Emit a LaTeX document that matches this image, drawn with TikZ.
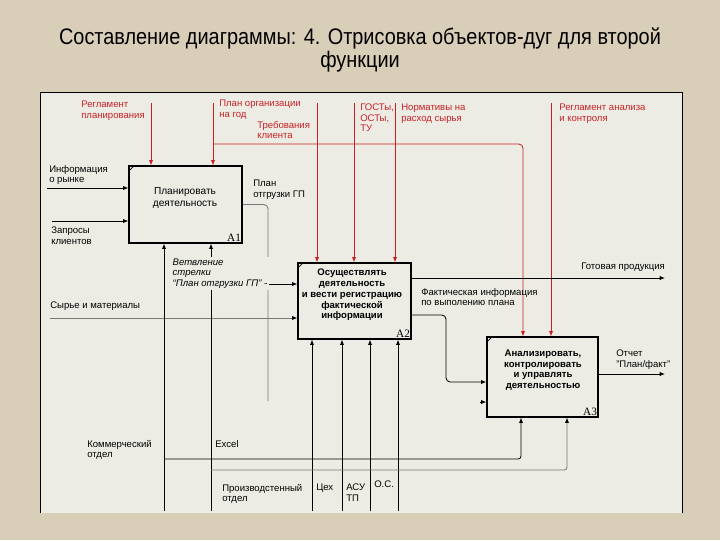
\documentclass[tikz,border=0pt]{standalone}
\usepackage{fontspec}
\setmainfont{Liberation Sans}
\newfontfamily\zagfont[FakeStretch=0.885]{Liberation Sans}
\newfontfamily\nomfont{Liberation Serif}
\usepackage{xcolor}
\usepackage{tikz}
\usetikzlibrary{arrows.meta}

\definecolor{fon}{RGB}{217,206,184}
\definecolor{panel}{RGB}{236,236,229}
\definecolor{krasn}{RGB}{200,32,36}
\definecolor{sery}{RGB}{120,120,120}

\tikzset{
  blok/.style={draw, line width=0.8pt},
  btext/.style={align=center, inner sep=0pt, font=\fontsize{7.2}{7.9}\selectfont},
  nom/.style={inner sep=1pt, font=\nomfont\fontsize{8}{9}\selectfont},
  podp/.style={anchor=north west, align=left, inner sep=0pt, font=\fontsize{6.8}{7.3}\selectfont},
  podpr/.style={podp, text=krasn},
  strelka/.style={line width=0.6pt, -{Latex[length=3.8pt,width=3pt]}},
  upr/.style={strelka, draw=krasn, -{Latex[length=3.8pt,width=3pt,color=krasn]}},
  zag/.style={align=center, inner sep=0pt, font=\zagfont\fontsize{16}{17}\selectfont}
}

\begin{document}
\begin{tikzpicture}[x=0.025cm,y=-0.025cm]
\useasboundingbox (0,0) rectangle (720,540);
\fill[fon] (0,0) rectangle (720,540);
\fill[panel] (40,92) rectangle (682,513);
\draw[line width=0.6pt] (40,513) -- (40,92) -- (682,92) -- (682,513);

% заголовок
\node[zag] (zag) at (360,50) {Составление диаграммы: 4. Отрисовка объектов-дуг для второй\\функции};

% блоки
\node[blok, minimum width=2.825cm, minimum height=1.925cm] (A1) at (185.5,204.5) {};
\node[blok, minimum width=2.825cm, minimum height=1.9cm] (A2) at (354.5,301) {};
\node[blok, minimum width=2.775cm, minimum height=2cm] (A3) at (542.5,377) {};
\node[btext] (A1t) at (185,198) {Планировать\\деятельность};
\node[btext, font=\bfseries\fontsize{6.8}{7.6}\selectfont] (A2t) at (352,295) {Осуществлять\\деятельность\\и вести регистрацию\\фактической\\информации};
\node[btext, font=\bfseries\fontsize{6.8}{7.6}\selectfont] (A3t) at (543,370) {Анализировать,\\контролировать\\и управлять\\деятельностью};
\node[nom, anchor=south east] (A1n) at (A1.south east) {A1};
\node[nom, anchor=south east] (A2n) at (A2.south east) {A2};
\node[nom, anchor=south east] (A3n) at (A3.south east) {A3};
\foreach \b in {A1,A2,A3}
  \draw[line width=0.4pt] ([shift={(1,5)}]\b.north west) -- ([shift={(5,1)}]\b.north west);

% управление
\coordinate (reglP) at (151,103);
\coordinate (plan) at (213,103);
\coordinate (planV) at (213,144);
\coordinate (planA3) at (523,144);
\coordinate (treb) at (317,103);
\coordinate (gost) at (354,103);
\coordinate (norm) at (395,103);
\coordinate (reglA) at (551,103);
\draw[upr] (reglP) -- (reglP |- A1.north);
\draw[upr] (plan) -- (plan |- A1.north);
\draw[upr, rounded corners=3] (planV) -- (planA3) -- (planA3 |- A3.north);
\draw[upr] (treb) -- (treb |- A2.north);
\draw[upr] (gost) -- (gost |- A2.north);
\draw[upr] (norm) -- (norm |- A2.north);
\draw[upr] (reglA) -- (reglA |- A3.north);

% входы
\coordinate (rynok) at (47,188);
\coordinate (zapros) at (52,221);
\coordinate (syrje) at (50,318);
\coordinate (vetv) at (268,284);
\coordinate (otgr) at (268,401);
\coordinate (vhodA3) at (480,402);
\draw[strelka] (rynok) -- (rynok -| A1.west);
\draw[strelka] (zapros) -- (zapros -| A1.west);
\draw[strelka, draw=sery, -{Latex[length=3.8pt,width=3pt,color=black]}] (syrje) -- (syrje -| A2.west);
\draw[line width=0.6pt, sery, rounded corners=3] (A1.east) -| (otgr);
\draw[strelka] (vetv) -- (vetv -| A2.west);
\draw[strelka] (vhodA3) -- (vhodA3 -| A3.west);

% выходы
\coordinate (gotov) at (665,278);
\coordinate (fakt) at (446,315);
\coordinate (fakt2) at (446,382);
\coordinate (otchet) at (665,374);
\draw[strelka] (gotov -| A2.east) -- (gotov);
\draw[strelka, rounded corners=3] (fakt -| A2.east) -- (fakt) -- (fakt2) -- (fakt2 -| A3.west);
\draw[strelka] (otchet -| A3.east) -- (otchet);

% механизмы
\coordinate (kommerc) at (164,511);
\coordinate (excel) at (211,511);
\coordinate (proizv) at (312,511);
\coordinate (ceh) at (342,511);
\coordinate (asu) at (370,511);
\coordinate (os) at (398,511);
\coordinate (kommV) at (164,459);
\coordinate (kommA3) at (521,459);
\coordinate (exV) at (211,470);
\coordinate (exA3) at (567,470);
\draw[strelka] (kommerc) -- (kommerc |- A1.south);
\draw[strelka] (excel) -- (excel |- A1.south);
\foreach \m in {proizv,ceh,asu,os}
  \draw[strelka] (\m) -- (\m |- A2.south);
\draw[strelka, rounded corners=2] (kommV) -- (kommA3) -- (kommA3 |- A3.south);
\draw[strelka, draw=sery, rounded corners=2, -{Latex[length=3.8pt,width=3pt,color=black]}] (exV) -- (exA3) -- (exA3 |- A3.south);

% подписи
\node[podpr] (lreglP) at (81,101) {Регламент\\планирования};
\node[podpr] (lplan) at (219,100) {План организации\\на год};
\node[podpr] (ltreb) at (257,121) {Требования\\клиента};
\node[podpr] (lgost) at (360,104) {ГОСТы,\\ОСТы,\\ТУ};
\node[podpr] (lnorm) at (401,104) {Нормативы на\\расход сырья};
\node[podpr] (lreglA) at (559,104) {Регламент анализа\\и контроля};
\node[podp] (lrynok) at (49,165) {Информация\\о рынке};
\node[podp] (lzapros) at (51,227) {Запросы\\клиентов};
\node[podp] (lotgr) at (253,180) {План\\отгрузки ГП};
\node[podp, fill=panel, inner sep=1pt, font=\itshape\fontsize{6.8}{7.6}\selectfont] (lvetv) at (171,257) {Ветвление\\стрелки\\ ``План отгрузки ГП'' -};
\node[podp] (lsyrje) at (50,302) {Сырье и материалы};
\node[podp] (lgotov) at (581,263) {Готовая продукция};
\node[podp] (lfakt) at (421,288) {Фактическая информация\\по выполению плана};
\node[podp] (lotchet) at (616,350) {Отчет\\"План/факт"};
\node[podp] (lkomm) at (87,440) {Коммерческий\\отдел};
\node[podp] (lexcel) at (215,440) {Excel};
\node[podp] (lproizv) at (222,484) {Производстенный\\отдел};
\node[podp] (lceh) at (316,484) {Цех};
\node[podp] (lasu) at (346,484) {АСУ\\ТП};
\node[podp] (los) at (374,481) {О.С.};
\end{tikzpicture}
\end{document}
